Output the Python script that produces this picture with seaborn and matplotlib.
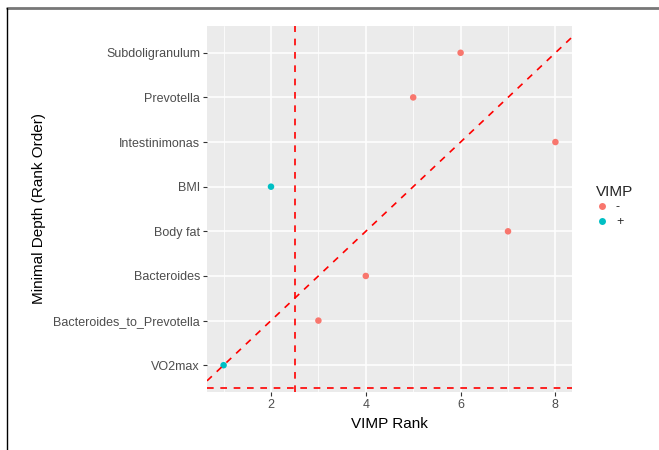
import matplotlib
matplotlib.use("Agg")
import matplotlib.pyplot as plt
import seaborn as sns
import pandas as pd
from matplotlib.lines import Line2D

variables = ["VO2max", "Bacteroides_to_Prevotella", "Bacteroides", "Body fat",
             "BMI", "Intestinimonas", "Prevotella", "Subdoligranulum"]
vimp_rank = [1, 3, 4, 7, 2, 8, 5, 6]
depth_rank = [1, 2, 3, 4, 5, 6, 7, 8]
vimp_sign = ["+", "-", "-", "-", "+", "-", "-", "-"]
x_ticks = [2, 4, 6, 8]

df = pd.DataFrame({"variable": variables, "VIMP Rank": vimp_rank,
                   "depth": depth_rank, "VIMP": vimp_sign})

sns.set_theme(style="darkgrid")
plt.rcParams['font.family'] = ['Liberation Sans', 'DejaVu Sans']

fig = plt.figure(figsize=(6.59, 4.5), dpi=100)
ax = fig.add_axes([207/659, 1-392/450, (572-207)/659, (392-26)/450])
ax.set_facecolor("#EBEBEB")

palette = {"-": "#F8766D", "+": "#00BFC4"}
sns.scatterplot(data=df, x="VIMP Rank", y="depth", hue="VIMP", hue_order=["-", "+"],
                palette=palette, s=22, edgecolor="none", ax=ax, legend=False, zorder=3)

ax.set_xlim(0.65, 8.35)
ax.set_ylim(0.4, 8.6)
ax.set_xticks(x_ticks)
ax.set_xticks([1, 3, 5, 7], minor=True)
ax.set_yticks(depth_rank)
ax.set_yticklabels(variables)
ax.grid(which="major", color="white", linewidth=1.1)
ax.grid(which="minor", axis="x", color="white", linewidth=0.55)
ax.set_axisbelow(True)
for sp in ax.spines.values():
    sp.set_visible(False)
ax.tick_params(axis="both", which="major", length=3, width=0.8, color="#333333",
               labelsize=9, labelcolor="#4D4D4D", pad=2, bottom=True, left=True)
ax.tick_params(axis="both", which="minor", length=0)

ax.axvline(2.5, color="red", linestyle=(0, (4, 4)), linewidth=1.2, zorder=2)
ax.axhline(0.5, color="red", linestyle=(0, (4, 4)), linewidth=1.2, zorder=2)
ax.axline((1, 1), slope=1, color="red", linestyle=(0, (4, 4)), linewidth=1.2, zorder=4)

ax.set_xlabel("VIMP Rank", fontsize=11, color="black", labelpad=4)
ax.set_ylabel("Minimal Depth (Rank Order)", fontsize=11, color="black", labelpad=5)

handles = [Line2D([], [], marker="o", linestyle="none", markersize=5,
                  markerfacecolor=palette[k], markeredgecolor="none", label=k)
           for k in ["-", "+"]]
leg = fig.legend(handles=handles, title="VIMP", loc="upper left",
                 bbox_to_anchor=(591/659, 1-180/450), frameon=False,
                 fontsize=9, title_fontsize=11, handlelength=1.0,
                 handletextpad=0.6, labelspacing=0.2, borderaxespad=0)
leg._legend_box.align = "left"

fig.add_artist(Line2D([7/659, 1], [1-8/450, 1-8/450], color="#777777", linewidth=2,
                      transform=fig.transFigure))
fig.add_artist(Line2D([7/659, 7/659], [0, 1-8/450], color="black", linewidth=1,
                      transform=fig.transFigure))

fig.savefig("out.png", dpi=100)
